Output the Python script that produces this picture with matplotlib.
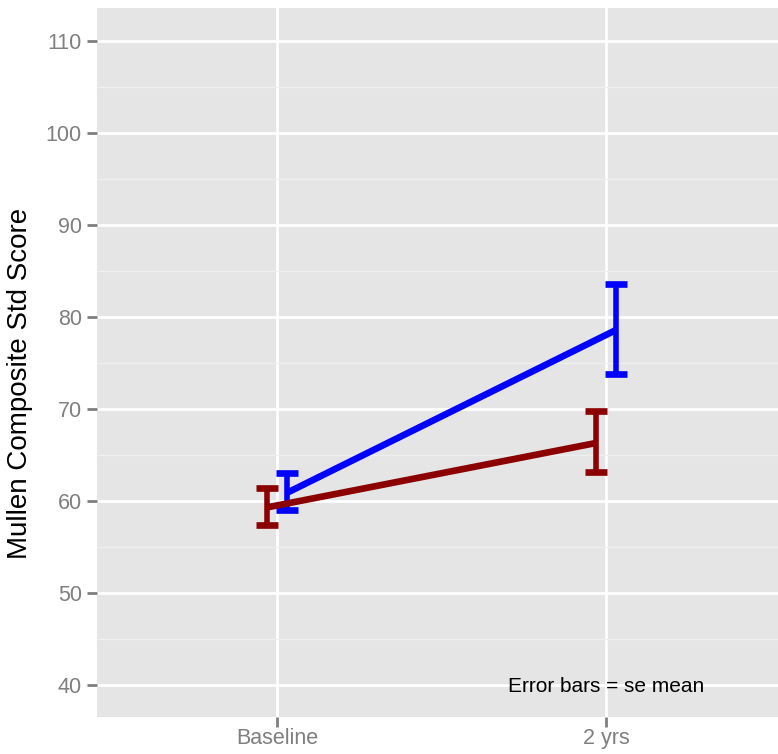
import matplotlib
matplotlib.use('Agg')
import matplotlib.pyplot as plt
from matplotlib.ticker import MultipleLocator

plt.rcParams['font.family'] = ['Liberation Sans', 'DejaVu Sans']

# values
times = ['Baseline', '2 yrs']
blue_mean = [60.9, 78.6]
blue_lo = [59.0, 73.8]
blue_hi = [63.0, 83.6]
red_mean = [59.3, 66.3]
red_lo = [57.4, 63.1]
red_hi = [61.4, 69.8]

dodge = 0.031
xpos = [1, 2]

fig = plt.figure(figsize=(7.78, 7.54), dpi=100)
ax = fig.add_axes([97 / 778, 37.3 / 754, 1 - 97 / 778, (716.7 - 8) / 754])
ax.set_facecolor('#E5E5E5')

ax.yaxis.set_major_locator(MultipleLocator(10))
ax.yaxis.set_minor_locator(MultipleLocator(5))
ax.grid(which='major', color='white', linewidth=2.0)
ax.grid(which='minor', axis='y', color='#F0F0F0', linewidth=0.9)
ax.set_axisbelow(True)

for s in ax.spines.values():
    s.set_visible(False)


def draw(means, lo, hi, shift, color):
    xs = [x + shift for x in xpos]
    err = [[m - l for m, l in zip(means, lo)], [h - m for m, h in zip(means, hi)]]
    ax.plot(xs, means, color=color, linewidth=4.8, solid_capstyle='butt', zorder=3)
    ax.errorbar(xs, means, yerr=err, fmt='none', ecolor=color, elinewidth=4.0,
                capsize=7.6, capthick=4.8, zorder=3)


draw(blue_mean, blue_lo, blue_hi, dodge, '#0000FF')
draw(red_mean, red_lo, red_hi, -dodge, '#8B0000')

ax.set_xlim(0.453, 2.523)
ax.set_ylim(36.55, 113.6)
ax.set_xticks(xpos)
ax.set_xticklabels(times)
ax.set_yticks(range(40, 111, 10))

ax.tick_params(axis='both', which='major', colors='#7F7F7F', labelcolor='#7F7F7F',
               labelsize=15.5, length=7, width=2)
ax.tick_params(axis='y', pad=4)
ax.tick_params(axis='x', pad=1)
ax.tick_params(which='minor', length=0)

fig.text(20 / 778, 1 - 383 / 754, 'Mullen Composite Std Score', rotation=90,
         fontsize=20, ha='center', va='center', color='black')

ax.text(1.702, 39.2, 'Error bars = se mean', fontsize=15, ha='left',
        va='baseline', color='black')

fig.savefig('out.png', dpi=100)
